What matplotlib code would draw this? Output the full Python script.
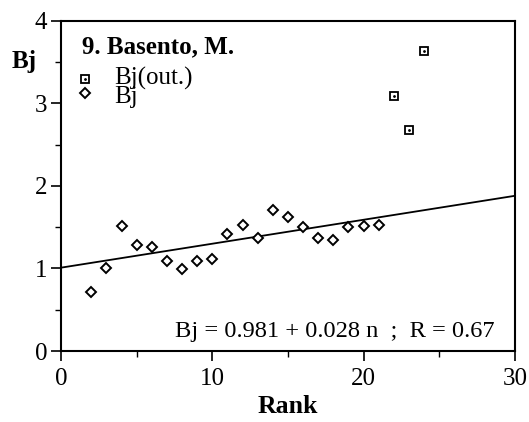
import matplotlib
matplotlib.use("Agg")
import matplotlib.pyplot as plt
import numpy as np

plt.rcParams['font.family'] = ['Liberation Serif', 'DejaVu Serif']

# Data
rank_in = [2, 3, 4, 5, 6, 7, 8, 9, 10, 11, 12, 13, 14, 15, 16, 17, 18, 19, 20, 21]
bj_in = [0.71, 1.01, 1.52, 1.28, 1.26, 1.09, 0.99, 1.09, 1.11, 1.42, 1.53, 1.37,
         1.71, 1.62, 1.50, 1.37, 1.34, 1.50, 1.52, 1.53]
rank_out = [22, 23, 24]
bj_out = [3.09, 2.68, 3.63]
line_intercept = 1.01
line_slope = 0.029
title = "9. Basento, M."
legend_labels = ["Bj(out.)", "Bj"]
equation = "Bj = 0.981 + 0.028 n  ;  R = 0.67"

fig = plt.figure(figsize=(5.29, 4.22), dpi=100)
ax = fig.add_axes([0.1153, 0.168, 0.858, 0.783])

xl = np.array([0, 30])
ax.plot(xl, line_intercept + line_slope * xl, color='black', lw=1.3, zorder=2)

ax.plot(rank_out, bj_out, ls='none', marker='s', ms=6, mfc='white', mec='black', mew=1.3, zorder=3)
ax.plot(rank_out, bj_out, ls='none', marker='.', ms=2, color='black', zorder=4)
ax.plot(rank_in, bj_in, ls='none', marker='D', ms=5.5, mfc='white', mec='black', mew=1.4, zorder=3)

ax.set_xlim(0, 30)
ax.set_ylim(0, 4)
ax.set_xticks([0, 10, 20, 30])
ax.set_xticks([5, 15, 25], minor=True)
ax.set_yticks([0, 1, 2, 3, 4])
ax.set_yticks([0.5, 1.5, 2.5, 3.5], minor=True)
ax.tick_params(which='major', direction='out', length=7, width=1.2, labelsize=18, pad=3)
ax.tick_params(axis='x', which='major', pad=5)
ax.tick_params(which='minor', direction='out', length=4, width=1.0)
for s in ax.spines.values():
    s.set_linewidth(1.5)

ax.set_xlabel("Rank", fontsize=18.5, fontweight='bold', labelpad=4)
ax.text(-0.108, 0.875, "Bj", transform=ax.transAxes, fontsize=18, fontweight='bold',
        ha='left', va='center')

ax.text(0.046, 0.901, title, transform=ax.transAxes, fontsize=18, fontweight='bold',
        ha='left', va='baseline')

# legend-like entries
ax.plot([0.053], [0.825], transform=ax.transAxes, marker='s', ms=6, mfc='white', mec='black', mew=1.3, ls='none')
ax.plot([0.053], [0.825], transform=ax.transAxes, marker='.', ms=2, color='black', ls='none')
ax.plot([0.053], [0.78], transform=ax.transAxes, marker='D', ms=5.5, mfc='white', mec='black', mew=1.4, ls='none')
ax.text(0.118, 0.75, "\n".join(legend_labels), transform=ax.transAxes, fontsize=18,
        ha='left', va='baseline', linespacing=0.76)

ax.text(0.955, 0.043, equation, transform=ax.transAxes, fontsize=17.6, ha='right', va='baseline')

fig.savefig("out.png", dpi=100)
